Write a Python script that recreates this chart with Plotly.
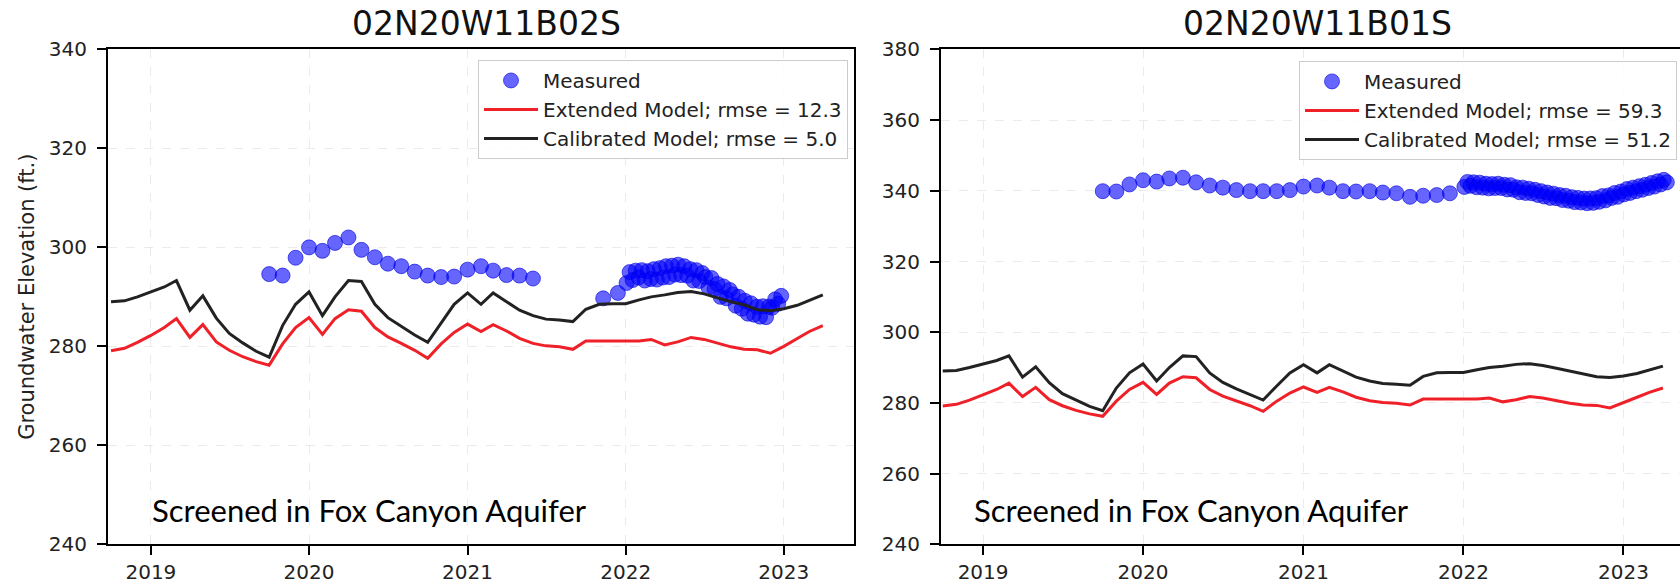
import pandas as pd
import plotly.graph_objects as go

# ---------------- data ----------------
years = ["2019", "2020", "2021", "2022", "2023"]
year_ticks = ["2019-01-01", "2020-01-01", "2021-01-01", "2022-01-01", "2023-01-01"]

model_start = "2018-10-01"  # monthly model output
calibrated = [289.0, 289.2, 290.0,
              291.0, 292.0, 293.3, 287.3, 290.2, 285.7, 282.6, 280.7, 279.0, 277.8, 284.2, 288.5,
              291.0, 286.2, 290.0, 293.3, 293.1, 288.5, 285.8, 284.0, 282.3, 280.8, 284.8, 288.5,
              290.8, 288.5, 290.8, 289.0, 287.3, 286.2, 285.5, 285.3, 285.0, 287.5, 288.5, 288.6,
              288.6, 289.4, 290.0, 290.4, 290.9, 291.1, 290.6, 289.8, 289.0, 288.4, 287.4, 287.2,
              287.6, 288.3, 289.3, 290.4]
extended = [279.1, 279.6, 280.8,
            282.2, 283.8, 285.6, 281.8, 284.4, 280.9, 279.2, 277.9, 276.9, 276.2, 280.5, 283.8,
            285.8, 282.4, 285.6, 287.4, 287.1, 283.8, 281.9, 280.6, 279.2, 277.6, 280.5, 282.8,
            284.5, 283.0, 284.4, 283.1, 281.6, 280.6, 280.1, 279.9, 279.4, 281.1, 281.1, 281.1,
            281.1, 281.1, 281.4, 280.3, 280.9, 281.8, 281.4, 280.6, 279.9, 279.4, 279.3, 278.6,
            280.0, 281.6, 283.0, 284.2]

# 02N20W11B02S measured
b02_monthly_start = "2019-10-01"
b02_monthly = [294.6, 294.3, 297.9, 300.0, 299.3, 300.9, 302.0, 299.5, 298.0, 296.7, 296.2,
               295.1, 294.3, 294.0, 294.1, 295.5, 296.2, 295.3, 294.4, 294.3, 293.7]
b02_extra_dates = ["2021-11-10", "2021-12-14"]
b02_extra = [289.7, 290.8]
b02_weekly_start = "2022-01-03"
b02_weekly = [292.8, 295.0, 293.4, 295.3, 293.9,
              295.4, 293.3, 295.2, 293.6,
              295.6, 293.5, 295.8, 293.9,
              296.2, 294.0, 296.3, 294.5,
              296.5, 294.4, 296.2, 294.3, 295.6,
              293.3, 295.4, 293.2, 294.8,
              294.0, 291.9, 293.8, 291.6,
              292.6, 290.0, 292.1, 289.7, 291.4,
              290.5, 288.2, 290.0, 287.6,
              289.2, 286.6, 288.7, 286.4, 288.0,
              286.0, 288.1, 285.9, 288.0,
              287.8, 289.5, 288.6, 290.2]

# 02N20W11B01S measured
b01_monthly_start = "2019-10-01"
b01_monthly = [339.9, 339.8, 341.8, 343.0, 342.6, 343.5, 343.7, 342.4, 341.5, 340.9, 340.2,
               339.9, 339.9, 339.9, 340.2, 341.2, 341.5, 340.9, 339.9, 339.8, 339.9, 339.5,
               339.3, 338.3, 338.6, 338.8, 339.3]
b01_weekly_start = "2022-01-03"
b01_weekly = [341.1, 342.5, 341.4, 342.4, 341.0,
              342.3, 340.9, 342.0, 340.7,
              341.9, 340.8, 342.0, 340.8,
              341.7, 340.4, 341.6, 340.3,
              341.0, 339.6, 340.9, 339.4, 340.6,
              339.3, 340.3, 338.8, 339.9,
              338.4, 339.5, 338.0, 339.2, 337.9,
              338.8, 337.4, 338.6, 337.2,
              338.2, 336.8, 338.0, 336.7,
              337.8, 336.5, 337.8, 336.6,
              337.9, 336.9, 338.5, 337.3, 338.7,
              338.0, 339.4, 338.3, 339.8,
              339.0, 340.5, 339.4, 340.9, 339.9,
              341.3, 340.3, 341.7, 340.8,
              342.2, 341.2, 342.7, 341.8,
              343.1, 342.4]

titles = ["02N20W11B02S", "02N20W11B01S"]
rmse_ext = ["12.3", "59.3"]
rmse_cal = ["5.0", "51.2"]
note = "Screened in Fox Canyon Aquifer"
ylabel = "Groundwater Elevation (ft.)"

# ---------------- build ----------------
model_dates = pd.date_range(model_start, periods=len(calibrated), freq="MS")

b02_dates = (list(pd.date_range(b02_monthly_start, periods=len(b02_monthly), freq="MS"))
             + list(pd.to_datetime(b02_extra_dates))
             + list(pd.date_range(b02_weekly_start, periods=len(b02_weekly), freq="7D")))
b02_vals = b02_monthly + b02_extra + b02_weekly

b01_dates = (list(pd.date_range(b01_monthly_start, periods=len(b01_monthly), freq="MS"))
             + list(pd.date_range(b01_weekly_start, periods=len(b01_weekly), freq="7D")))
b01_vals = b01_monthly + b01_weekly

FONT = "DejaVu Sans"
W, H = 1680, 587
RED = "rgb(240,32,40)"
BLACK = "rgb(34,34,34)"
MCOL = "rgba(0,0,255,0.6)"

fig = go.Figure()
panels = [("x", "y", "legend", b02_dates, b02_vals, 0),
          ("x2", "y2", "legend2", b01_dates, b01_vals, 1)]
for xa, ya, lg, d, v, i in panels:
    fig.add_trace(go.Scatter(x=d, y=v, mode="markers", name="Measured",
                             marker=dict(size=15, color=MCOL,
                                         line=dict(color="rgba(0,0,220,0.6)", width=1)),
                             xaxis=xa, yaxis=ya, legend=lg))
    fig.add_trace(go.Scatter(x=model_dates, y=extended, mode="lines",
                             name=f"Extended Model; rmse = {rmse_ext[i]}",
                             line=dict(color=RED, width=3),
                             xaxis=xa, yaxis=ya, legend=lg))
    fig.add_trace(go.Scatter(x=model_dates, y=calibrated, mode="lines",
                             name=f"Calibrated Model; rmse = {rmse_cal[i]}",
                             line=dict(color=BLACK, width=3),
                             xaxis=xa, yaxis=ya, legend=lg))

def px_x(p):
    return p / W

def px_y(p):
    return 1 - p / H

ydom = [px_y(555), px_y(39)]
axis_common = dict(showline=True, linecolor="black", linewidth=2,
                   ticks="outside", ticklen=9, tickwidth=1.5, tickcolor="black",
                   showgrid=True, gridcolor="rgba(0,0,0,0.08)", griddash="dash", gridwidth=1,
                   zeroline=False, tickfont=dict(family=FONT, size=20, color="#222"))

legend_common = dict(xanchor="right", yanchor="top", itemwidth=54,
                     bgcolor="rgba(255,255,255,0.85)", bordercolor="#cccccc", borderwidth=1,
                     font=dict(family=FONT, size=20, color="#222"))

fig.update_layout(
    width=W, height=H, autosize=False,
    margin=dict(l=0, r=0, t=0, b=0),
    paper_bgcolor="white", plot_bgcolor="white",
    xaxis=dict(domain=[px_x(108), px_x(854)], range=["2018-09-24", "2023-06-12"],
               type="date", tickvals=year_ticks, ticktext=years, anchor="y",
               mirror=True, ticklabelstandoff=0, **axis_common),
    yaxis=dict(domain=ydom, range=[240, 340], tick0=240, dtick=20, anchor="x",
               mirror=True, ticklabelstandoff=6, **axis_common),
    xaxis2=dict(domain=[px_x(941), 1.0], range=["2018-09-27", "2023-05-10"],
                type="date", tickvals=year_ticks, ticktext=years, anchor="y2",
                mirror=True, ticklabelstandoff=0, **axis_common),
    yaxis2=dict(domain=ydom, range=[240, 380], tick0=240, dtick=20, anchor="x2",
                mirror=False, ticklabelstandoff=6, **axis_common),
    legend=dict(x=px_x(848), y=px_y(50), **legend_common),
    legend2=dict(x=px_x(1677), y=px_y(51), **legend_common),
    showlegend=True,
)

annotations = [
    dict(text=titles[0], x=px_x(486), y=px_y(12), xref="paper", yref="paper",
         xanchor="center", yanchor="middle",
         showarrow=False, font=dict(family=FONT, size=33, color="#111")),
    dict(text=titles[1], x=px_x(1317), y=px_y(12), xref="paper", yref="paper",
         xanchor="center", yanchor="middle",
         showarrow=False, font=dict(family=FONT, size=33, color="#111")),
    dict(text=ylabel, x=px_x(27), y=px_y(297), xref="paper", yref="paper",
         xanchor="center", yanchor="middle",
         showarrow=False, textangle=-90, font=dict(family=FONT, size=21, color="#222")),
    dict(text=note, x=px_x(150), y=px_y(519), xref="paper", yref="paper",
         xanchor="left", yanchor="middle", showarrow=False,
         font=dict(family="Lato", size=31, color="black")),
    dict(text=note, x=px_x(972), y=px_y(519), xref="paper", yref="paper",
         xanchor="left", yanchor="middle", showarrow=False,
         font=dict(family="Lato", size=31, color="black")),
]
fig.update_layout(annotations=annotations)

fig.write_html("out.html", config={"displayModeBar": False},
               post_script="document.body.style.margin='0px';")
